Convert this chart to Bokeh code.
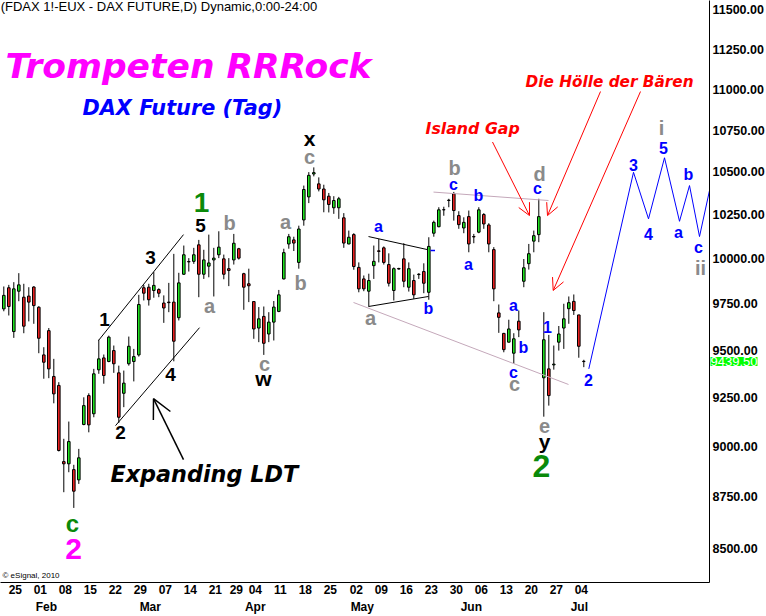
from bokeh.plotting import figure
from bokeh.models import (ColumnDataSource, Range1d, FixedTicker, PrintfTickFormatter,
                          LinearAxis, Label, Arrow, OpenHead)
from bokeh.core.properties import value
from bokeh.embed import file_html
from bokeh.resources import INLINE

# ---------------- data ----------------
opens = [9723, 9839, 9600, 9820, 9787, 9793, 9843, 9732, 9475, 9605,
         9361, 9314, 8924, 8913, 8884, 8833, 9112, 9261, 9167, 9396,
         9459, 9440, 9498, 9380, 9273, 9428, 9440, 9475, 9839, 9842,
         9824, 9829, 9755, 9760, 9760, 9675, 9914, 9985, 9986, 10079,
         9914, 9959, 9994, 10023, 10000, 9945, 9994, 10057, 9917, 9861,
         9763, 9619, 9682, 9587, 9651, 9709, 9888, 10084, 10107, 9980,
         10221, 10354, 10488, 10430, 10400, 10358, 10291, 10291, 10233, 10084,
         10137, 9952, 9888, 9820, 9962, 10045, 10062, 9968, 9824, 9946,
         10000, 9842, 9879, 9912, 9929, 9814, 10145, 10182, 10279, 10333,
         10372, 10246, 10175, 10240, 10126, 10151, 10252, 10192, 10052, 9701,
         9590, 9543, 9484, 9656, 9875, 9973, 10100, 10137, 9354, 9401,
         9422, 9543, 9619, 9724, 9764, 9690, 9441]
highs = [9846, 9855, 9870, 9920, 9861, 9842, 9848, 9738, 9516, 9619,
         9454, 9331, 9039, 9127, 8908, 8988, 9252, 9273, 9401, 9556,
         9477, 9578, 9525, 9418, 9392, 9573, 9507, 9800, 9855, 9861,
         9926, 9836, 9797, 9866, 10028, 9922, 10075, 10004, 10062, 10107,
         10051, 10137, 10062, 10156, 10024, 10004, 10141, 10062, 9922, 9945,
         9766, 9733, 9736, 9705, 9766, 9827, 10057, 10141, 10125, 10188,
         10420, 10499, 10527, 10468, 10425, 10377, 10358, 10354, 10260, 10160,
         10145, 9980, 9907, 9917, 10075, 10112, 10070, 10031, 9952, 9950,
         10088, 9980, 9912, 9920, 9975, 10122, 10217, 10294, 10297, 10343,
         10383, 10271, 10236, 10275, 10141, 10294, 10260, 10202, 10066, 9747,
         9593, 9664, 9591, 9714, 9999, 10084, 10160, 10343, 9705, 9582,
         9525, 9630, 9751, 9791, 9802, 9691, 9449]
lows = [9710, 9687, 9566, 9765, 9591, 9655, 9642, 9484, 9349, 9352,
        9221, 8975, 8772, 8871, 8695, 8813, 9108, 9072, 9149, 9375,
        9323, 9436, 9380, 9120, 9201, 9418, 9335, 9466, 9769, 9741,
        9784, 9787, 9647, 9705, 9441, 9660, 9910, 9929, 9972, 9787,
        9888, 9897, 9791, 10004, 9886, 9848, 9968, 9996, 9718, 9760,
        9561, 9543, 9475, 9543, 9552, 9705, 9885, 10057, 10044, 9945,
        10188, 10318, 10474, 10386, 10265, 10264, 10256, 10227, 10062, 10082,
        9939, 9814, 9820, 9736, 9888, 9980, 9968, 9846, 9769, 9940,
        9842, 9818, 9778, 9888, 9809, 9773, 10125, 10179, 10245, 10294,
        10217, 10170, 10145, 10037, 10088, 10145, 10170, 10037, 9765, 9593,
        9489, 9541, 9428, 9570, 9842, 9940, 10037, 10094, 9152, 9209,
        9397, 9498, 9507, 9642, 9690, 9460, 9410]
closes = [9797, 9736, 9833, 9855, 9629, 9760, 9741, 9564, 9436, 9401,
          9270, 8980, 8913, 9025, 8777, 8943, 9209, 9110, 9375, 9454,
          9366, 9570, 9428, 9149, 9326, 9521, 9466, 9747, 9809, 9773,
          9852, 9809, 9728, 9757, 9548, 9866, 10023, 9983, 10023, 9914,
          9994, 9977, 10004, 10066, 9914, 9935, 10088, 10004, 9842, 9850,
          9614, 9669, 9537, 9651, 9733, 9800, 10035, 10125, 10089, 10169,
          10397, 10480, 10496, 10400, 10337, 10310, 10333, 10343, 10089, 10122,
          9957, 9833, 9833, 9879, 9986, 10042, 9980, 9864, 9945, 9943,
          9875, 9945, 9800, 9914, 9864, 10070, 10207, 10279, 10280, 10335,
          10275, 10194, 10207, 10084, 10124, 10279, 10198, 10084, 9833, 9677,
          9503, 9614, 9561, 9609, 9950, 10029, 10131, 10240, 9556, 9261,
          9426, 9587, 9669, 9757, 9714, 9521, 9439.5]
last_price = 9439.5

# x axis: session index of the date labels
tick_pos = [2.3, 7.3, 12.3, 17.3, 22.3, 27.3, 32.3, 37.3, 42.3, 46.5, 50.3, 55.3,
            60.3, 65.3, 70.5, 75.5, 80.5, 85.5, 90.5, 95.5, 100.5, 105.5, 110.5, 115.5]
tick_labels = ["25", "01", "08", "15", "22", "29", "07", "14", "21", "29", "04", "11",
               "18", "25", "02", "09", "16", "23", "30", "06", "13", "20", "27", "04"]
month_pos = [8.5, 29.3, 50.3, 71.7, 93.5, 115.1]
month_labels = ["Feb", "Mar", "Apr", "May", "Jun", "Jul"]
price_ticks = [8500, 8750, 9000, 9250, 9500, 9750, 10000, 10250, 10500, 10750, 11000, 11250, 11500]

# projected wave path (blue)
proj_idx = [117.0, 125.94, 128.94, 132.14, 135.14, 137.14, 139.14, 141.14]
proj_price = [9401, 10498, 10227, 10584, 10213, 10420, 10126, 10391]

# drawn trend lines
chan_up_idx, chan_up_price = [18.94, 35.94], [9552, 10137]
chan_lo_idx, chan_lo_price = [22.34, 39.14], [9106, 9621]
tri_up_idx, tri_up_price = [72.94, 84.74], [10126, 10052]
tri_lo_idx, tri_lo_price = [72.94, 84.94], [9736, 9791]
pink1_idx, pink1_price = [85.94, 108.94], [10382, 10333]
pink2_idx, pink2_price = [69.94, 112.94], [9758, 9319]
dash_idx, dash_price = [85.34, 86.24], [10047, 10047]

# wave labels
black_t = ["1", "2", "3", "4", "5"]
black_x = [20.14, 23.34, 29.34, 33.34, 39.34]
black_y = [9665, 9071, 10007, 9371, 10188]
blackl_t = ["x", "w", "y"]
blackl_x = [61.14, 51.94, 108.14]
blackl_y = [10699, 9350, 9025]
gray_t = ["a", "b", "c", "a", "b", "c", "a", "b", "d", "c", "e", "i", "ii"]
gray_x = [41.14, 45.14, 52.14, 56.34, 59.34, 61.14, 73.34, 90.14, 107.14, 102.14, 108.14, 131.54, 139.34]
gray_y = [9741, 10205, 9429, 10211, 9868, 10591, 9676, 10526, 10485, 9324, 9106, 10765, 9951]
blue_t = ["a", "b", "c", "b", "a", "c", "a", "b", "c", "1", "2", "3", "4", "5", "a", "b", "c"]
blue_x = [74.94, 84.94, 89.94, 94.94, 92.94, 106.74, 101.94, 103.94, 101.94, 108.74, 116.94,
          125.94, 128.94, 131.94, 134.94, 136.94, 138.94]
blue_y = [10183, 9725, 10426, 10362, 9968, 10403, 9741, 9514, 9381, 9627, 9345,
          10544, 10143, 10645, 10149, 10485, 10064]

# ---------------- figure ----------------
p = figure(frame_width=709, frame_height=582, output_backend="svg", toolbar_location=None,
           y_axis_type="log", y_axis_location="right",
           x_range=Range1d(-0.66, 141.14), y_range=Range1d(8338.4, 11561),
           min_border_left=0, min_border_top=0, min_border_right=57, min_border_bottom=34)
p.outline_line_color = None
p.xgrid.visible = False
p.ygrid.visible = False
p.background_fill_color = "white"
p.border_fill_color = "white"

ya = p.yaxis[0]
ya.ticker = FixedTicker(ticks=price_ticks, minor_ticks=[])
ya.formatter = PrintfTickFormatter(format="%.2f")
ya.major_tick_out = 0
ya.major_tick_in = 0
ya.minor_tick_line_color = None
ya.axis_line_color = "black"
ya.axis_label_standoff = 0
ya.major_label_standoff = 3
ya.major_label_text_font = "Liberation Sans"
ya.major_label_text_font_style = "bold"
ya.major_label_text_font_size = "12.5px"
ya.major_label_text_color = "black"

xa = p.xaxis[0]
xa.ticker = FixedTicker(ticks=tick_pos, minor_ticks=[])
xa.major_label_overrides = dict(zip(tick_pos, tick_labels))
xa.major_tick_out = 0
xa.major_tick_in = 0
xa.minor_tick_line_color = None
xa.axis_line_color = "black"
xa.axis_label_standoff = 0
xa.major_label_standoff = 2
xa.major_label_text_font = "Liberation Sans"
xa.major_label_text_font_style = "bold"
xa.major_label_text_font_size = "12px"
xa.major_label_text_color = "black"

ma = LinearAxis(ticker=FixedTicker(ticks=month_pos, minor_ticks=[]),
                major_label_overrides=dict(zip(month_pos, month_labels)),
                axis_line_color=None, major_tick_line_color=None, minor_tick_line_color=None,
                major_tick_out=0, major_tick_in=0, axis_label_standoff=0,
                major_label_standoff=3, major_label_text_font="Liberation Sans",
                major_label_text_font_style="bold", major_label_text_font_size="12px",
                major_label_text_color="black")
p.add_layout(ma, "below")

# ---------------- candles ----------------
sessions = list(range(len(opens)))
p.segment(x0=sessions, y0=lows, x1=sessions, y1=highs, line_color="black", line_width=1)

def body_source(rising):
    xs, tops, bots = [], [], []
    for s, o, c in zip(sessions, opens, closes):
        if (c >= o) == rising:
            xs.append(s)
            tops.append(max(o, c))
            bots.append(min(o, c))
    return ColumnDataSource(dict(x=xs, top=tops, bottom=bots))

p.vbar(x="x", top="top", bottom="bottom", width=0.52, source=body_source(True),
       fill_color="#20E020", line_color="black", line_width=1)
p.vbar(x="x", top="top", bottom="bottom", width=0.52, source=body_source(False),
       fill_color="#E82020", line_color="black", line_width=1)

# ---------------- drawn lines ----------------
for xs, ys in [(chan_up_idx, chan_up_price), (chan_lo_idx, chan_lo_price),
               (tri_up_idx, tri_up_price), (tri_lo_idx, tri_lo_price)]:
    p.line(xs, ys, line_color="black", line_width=1)
for xs, ys in [(pink1_idx, pink1_price), (pink2_idx, pink2_price)]:
    p.line(xs, ys, line_color="#C4A8BA", line_width=1)
p.line(dash_idx, dash_price, line_color="#0000FF", line_width=1.5)
p.line(proj_idx, proj_price, line_color="#0000FF", line_width=1)

# arrows
p.add_layout(Arrow(end=OpenHead(size=19, line_color="black", line_width=1.5),
                   x_start=35.94, y_start=8934, x_end=29.94, y_end=9245,
                   line_color="black", line_width=1.5))
for xs, ys, xe, ye in [(97.74, 10678, 105.14, 10246),
                       (119.34, 10985, 108.74, 10246),
                       (127.34, 10985, 109.88, 9824)]:
    p.add_layout(Arrow(end=OpenHead(size=12, line_color="#FF0000", line_width=1),
                       x_start=xs, y_start=ys, x_end=xe, y_end=ye,
                       line_color="#FF0000", line_width=1))

# ---------------- wave labels ----------------
def labels(t, x, y, color, size, font="Liberation Sans"):
    src = ColumnDataSource(dict(x=x, y=y, t=t))
    p.text(x="x", y="y", text="t", source=src, text_color=color,
           text_font=value(font), text_font_style="bold", text_font_size=size,
           text_align="center", text_baseline="middle")

labels(black_t, black_x, black_y, "black", "19px")
labels(blackl_t, blackl_x, blackl_y, "black", "21px")
labels(gray_t, gray_x, gray_y, "#8A8A8A", "20px")
labels(blue_t, blue_x, blue_y, "#0000FF", "16px")
labels(["1"], [39.54], [10321], "#0A8A0A", "28px")
labels(["2"], [107.54], [8904], "#0A8A0A", "32px")
labels(["c"], [13.74], [8619], "#0A8A0A", "24px")
labels(["2"], [13.94], [8499], "#FF00FF", "30px")

# ---------------- titles / comments ----------------
def note(text, x, y, color, size, style="bold italic", font="DejaVu Sans"):
    p.text(x=[x], y=[y], text=[text], text_color=color, text_font=value(font),
           text_font_style=style, text_font_size=size, text_align="left",
           text_baseline="middle")

note("(FDAX 1!-EUX - DAX FUTURE,D) Dynamic,0:00-24:00", -0.62, 11519, "black", "13px",
     style="normal", font="Liberation Sans")
note("Trompeten RRRock", 0.34, 11146, "#FF00FF", "34.5px")
note("DAX Future (Tag)", 15.74, 10881, "#0000FF", "20.8px")
note("Die Hölle der Bären", 104.34, 11041, "#FF0000", "15.3px")
note("Island Gap", 84.34, 10759, "#FF0000", "15.8px")
note("Expanding LDT", 21.34, 8864, "black", "22.3px")
note("\u00a9 eSignal, 2010", -0.26, 8371, "black", "8px", style="normal", font="Liberation Sans")

# last-price box on the price scale (side panel so it is not clipped to the frame)
p.add_layout(Label(x=141.34, y=last_price, text="9439.50", text_align="left",
                   text_baseline="middle", text_color="white", text_font_size="13px",
                   text_font="Liberation Sans", background_fill_color="#00FF00"), "below")

open("out.html", "w").write(file_html(p, INLINE))
